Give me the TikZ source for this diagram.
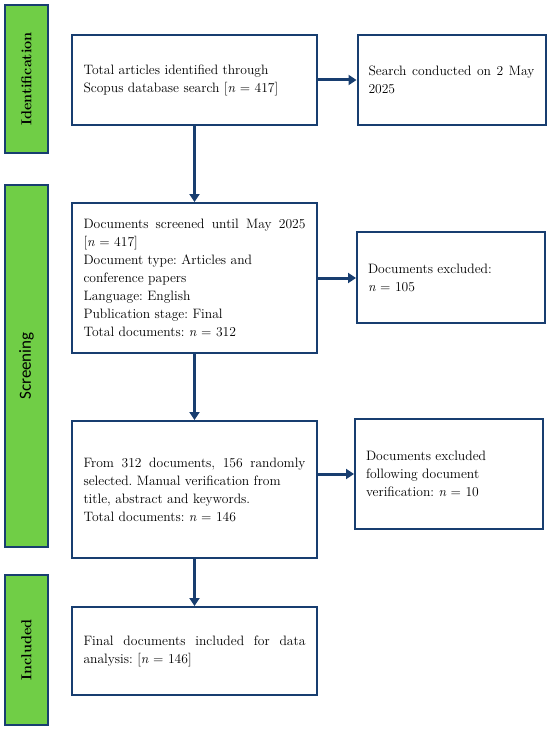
\documentclass[tikz,border=0pt]{standalone}
\usepackage{fontspec}
\usetikzlibrary{arrows.meta}
\newfontfamily\screenfont{Carlito}
\definecolor{navy}{RGB}{24,62,112}
\definecolor{stagegreen}{RGB}{112,206,70}
\frenchspacing

\begin{document}
\begin{tikzpicture}[x=1pt,y=-1pt,
  stage/.style={draw=navy,line width=1.5pt,fill=stagegreen,minimum width=43pt,inner sep=0pt},
  mainbox/.style={draw=navy,line width=2pt,fill=white,minimum width=245pt,text width=222pt,
    inner xsep=11.5pt,inner ysep=0pt,align=justify,font=\fontsize{13.6}{18}\selectfont},
  sidebox/.style={mainbox,minimum width=188pt,text width=166pt,inner xsep=11pt},
  flow/.style={draw=navy,line width=3pt,-{Triangle[length=8pt,width=10pt]}}]
\useasboundingbox (0,0) rectangle (550,730);

\node[stage,minimum height=148pt] (ident) at (26.5,79)
  {\rotatebox{90}{\fontsize{14.4}{16}\selectfont\bfseries Identification}};
\node[stage,minimum height=362pt] (screen) at (26.5,366)
  {\rotatebox{90}{\fontsize{17}{19}\selectfont\screenfont Screening}};
\node[stage,minimum height=150pt] (incl) at (26.5,650)
  {\rotatebox{90}{\fontsize{14.4}{16}\selectfont\bfseries Included}};

\node[mainbox,minimum height=90pt] (total) at (194.5,80)
  {Total articles identified through\\Scopus database search [\textit{n} = 417]};
\node[sidebox,minimum height=90pt] (search) at (451.5,80)
  {Search conducted on 2 May\linebreak 2025};

\node[mainbox,minimum height=150pt] (screened) at (194.5,278)
  {Documents screened until May 2025\linebreak
   {[}\textit{n} = 417{]}\\
   Document type: Articles and\\
   conference papers\\
   Language: English\\
   Publication stage: Final\\
   Total documents: \textit{n} = 312};
\node[sidebox,minimum height=91pt] (excl1) at (451,277.5)
  {Documents excluded:\\\textit{n} = 105};

\node[mainbox,minimum height=137pt] (random) at (194.5,489.5)
  {From 312 documents, 156 randomly\linebreak
   selected. Manual verification from\\
   title, abstract and keywords.\\
   Total documents: \textit{n} = 146};
\node[sidebox,minimum height=110pt] (excl2) at (449,474)
  {Documents excluded\\following document\\verification: \textit{n} = 10};

\node[mainbox,minimum height=88pt] (final) at (194.5,651)
  {Final documents included for data\linebreak
   analysis: [\textit{n} = 146]};

\draw[flow] (total) -- (search);
\draw[flow] (total) -- (screened);
\draw[flow] (screened) -- (excl1.west |- screened.east);
\draw[flow] (screened) -- (random);
\draw[flow] (random.east |- excl2.west) -- (excl2.west);
\draw[flow] (random) -- (final);

\end{tikzpicture}
\end{document}
